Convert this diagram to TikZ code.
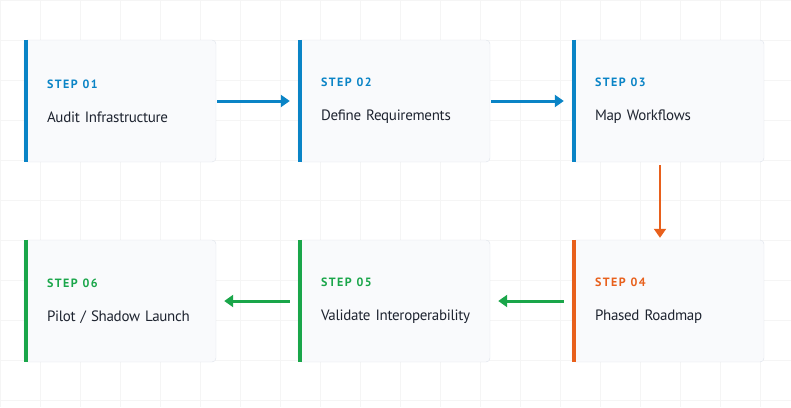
\documentclass[tikz,border=0pt]{standalone}
\usepackage{fontspec}
\setmainfont{PT Sans}
\usetikzlibrary{positioning,arrows.meta}
\definecolor{stepblue}{HTML}{0A84C6}
\definecolor{steporange}{HTML}{E8601C}
\definecolor{stepgreen}{HTML}{1AA64A}
\definecolor{boxline}{HTML}{DDE2EA}
\definecolor{boxfill}{HTML}{F9FAFC}
\definecolor{titletext}{HTML}{1E2430}
\tikzset{
  stepbox/.style={rectangle, draw=boxline, fill=boxfill, rounded corners=4pt,
    minimum height=122pt, text width=146pt, inner xsep=23pt, inner ysep=0pt,
    align=left, text=titletext, font=\fontsize{15}{19}\selectfont},
  flow/.style={line width=3pt, -{Triangle[length=9pt,width=12pt]}},
}
\newcommand{\steptext}[3]{{\color{#1}\fontsize{12}{14}\selectfont\bfseries\addfontfeature{LetterSpace=12}#2}\\[15pt]\mbox{\addfontfeature{LetterSpace=-2}#3}}
\begin{document}
\begin{tikzpicture}[x=1pt,y=1pt]
  \useasboundingbox (0,0) rectangle (791,-407);
  \draw[gray!8, step=40pt] (0,0) grid (791,-407);

  \node[stepbox] (s1) at (120,-101) {\steptext{stepblue}{STEP 01}{Audit Infrastructure}};
  \node[stepbox] (s2) at (394,-101) {\steptext{stepblue}{STEP 02}{Define Requirements}};
  \node[stepbox] (s3) at (668,-101) {\steptext{stepblue}{STEP 03}{Map Workflows}};
  \node[stepbox] (s4) at (668,-301) {\steptext{steporange}{STEP 04}{Phased Roadmap}};
  \node[stepbox] (s5) at (394,-301) {\steptext{stepgreen}{STEP 05}{Validate Interoperability}};
  \node[stepbox] (s6) at (120,-301) {\steptext{stepgreen}{STEP 06}{Pilot / Shadow Launch}};

  % accent bars
  \foreach \n/\c in {s1/stepblue,s2/stepblue,s3/stepblue,s4/steporange,s5/stepgreen,s6/stepgreen}
    \draw[\c, line width=4pt] ([xshift=2pt]\n.north west) -- ([xshift=2pt]\n.south west);

  \draw[flow, stepblue] ([xshift=1pt]s1.east) -- ([xshift=-8pt]s2.west);
  \draw[flow, stepblue] ([xshift=1pt]s2.east) -- ([xshift=-8pt]s3.west);
  \draw[flow, steporange, line width=2pt] ([xshift=-8pt,yshift=-3pt]s3.south) -- ([xshift=-8pt,yshift=2pt]s4.north);
  \draw[flow, stepgreen] ([xshift=-8pt]s4.west) -- ([xshift=8pt]s5.east);
  \draw[flow, stepgreen] ([xshift=-8pt]s5.west) -- ([xshift=8pt]s6.east);
\end{tikzpicture}
\end{document}
